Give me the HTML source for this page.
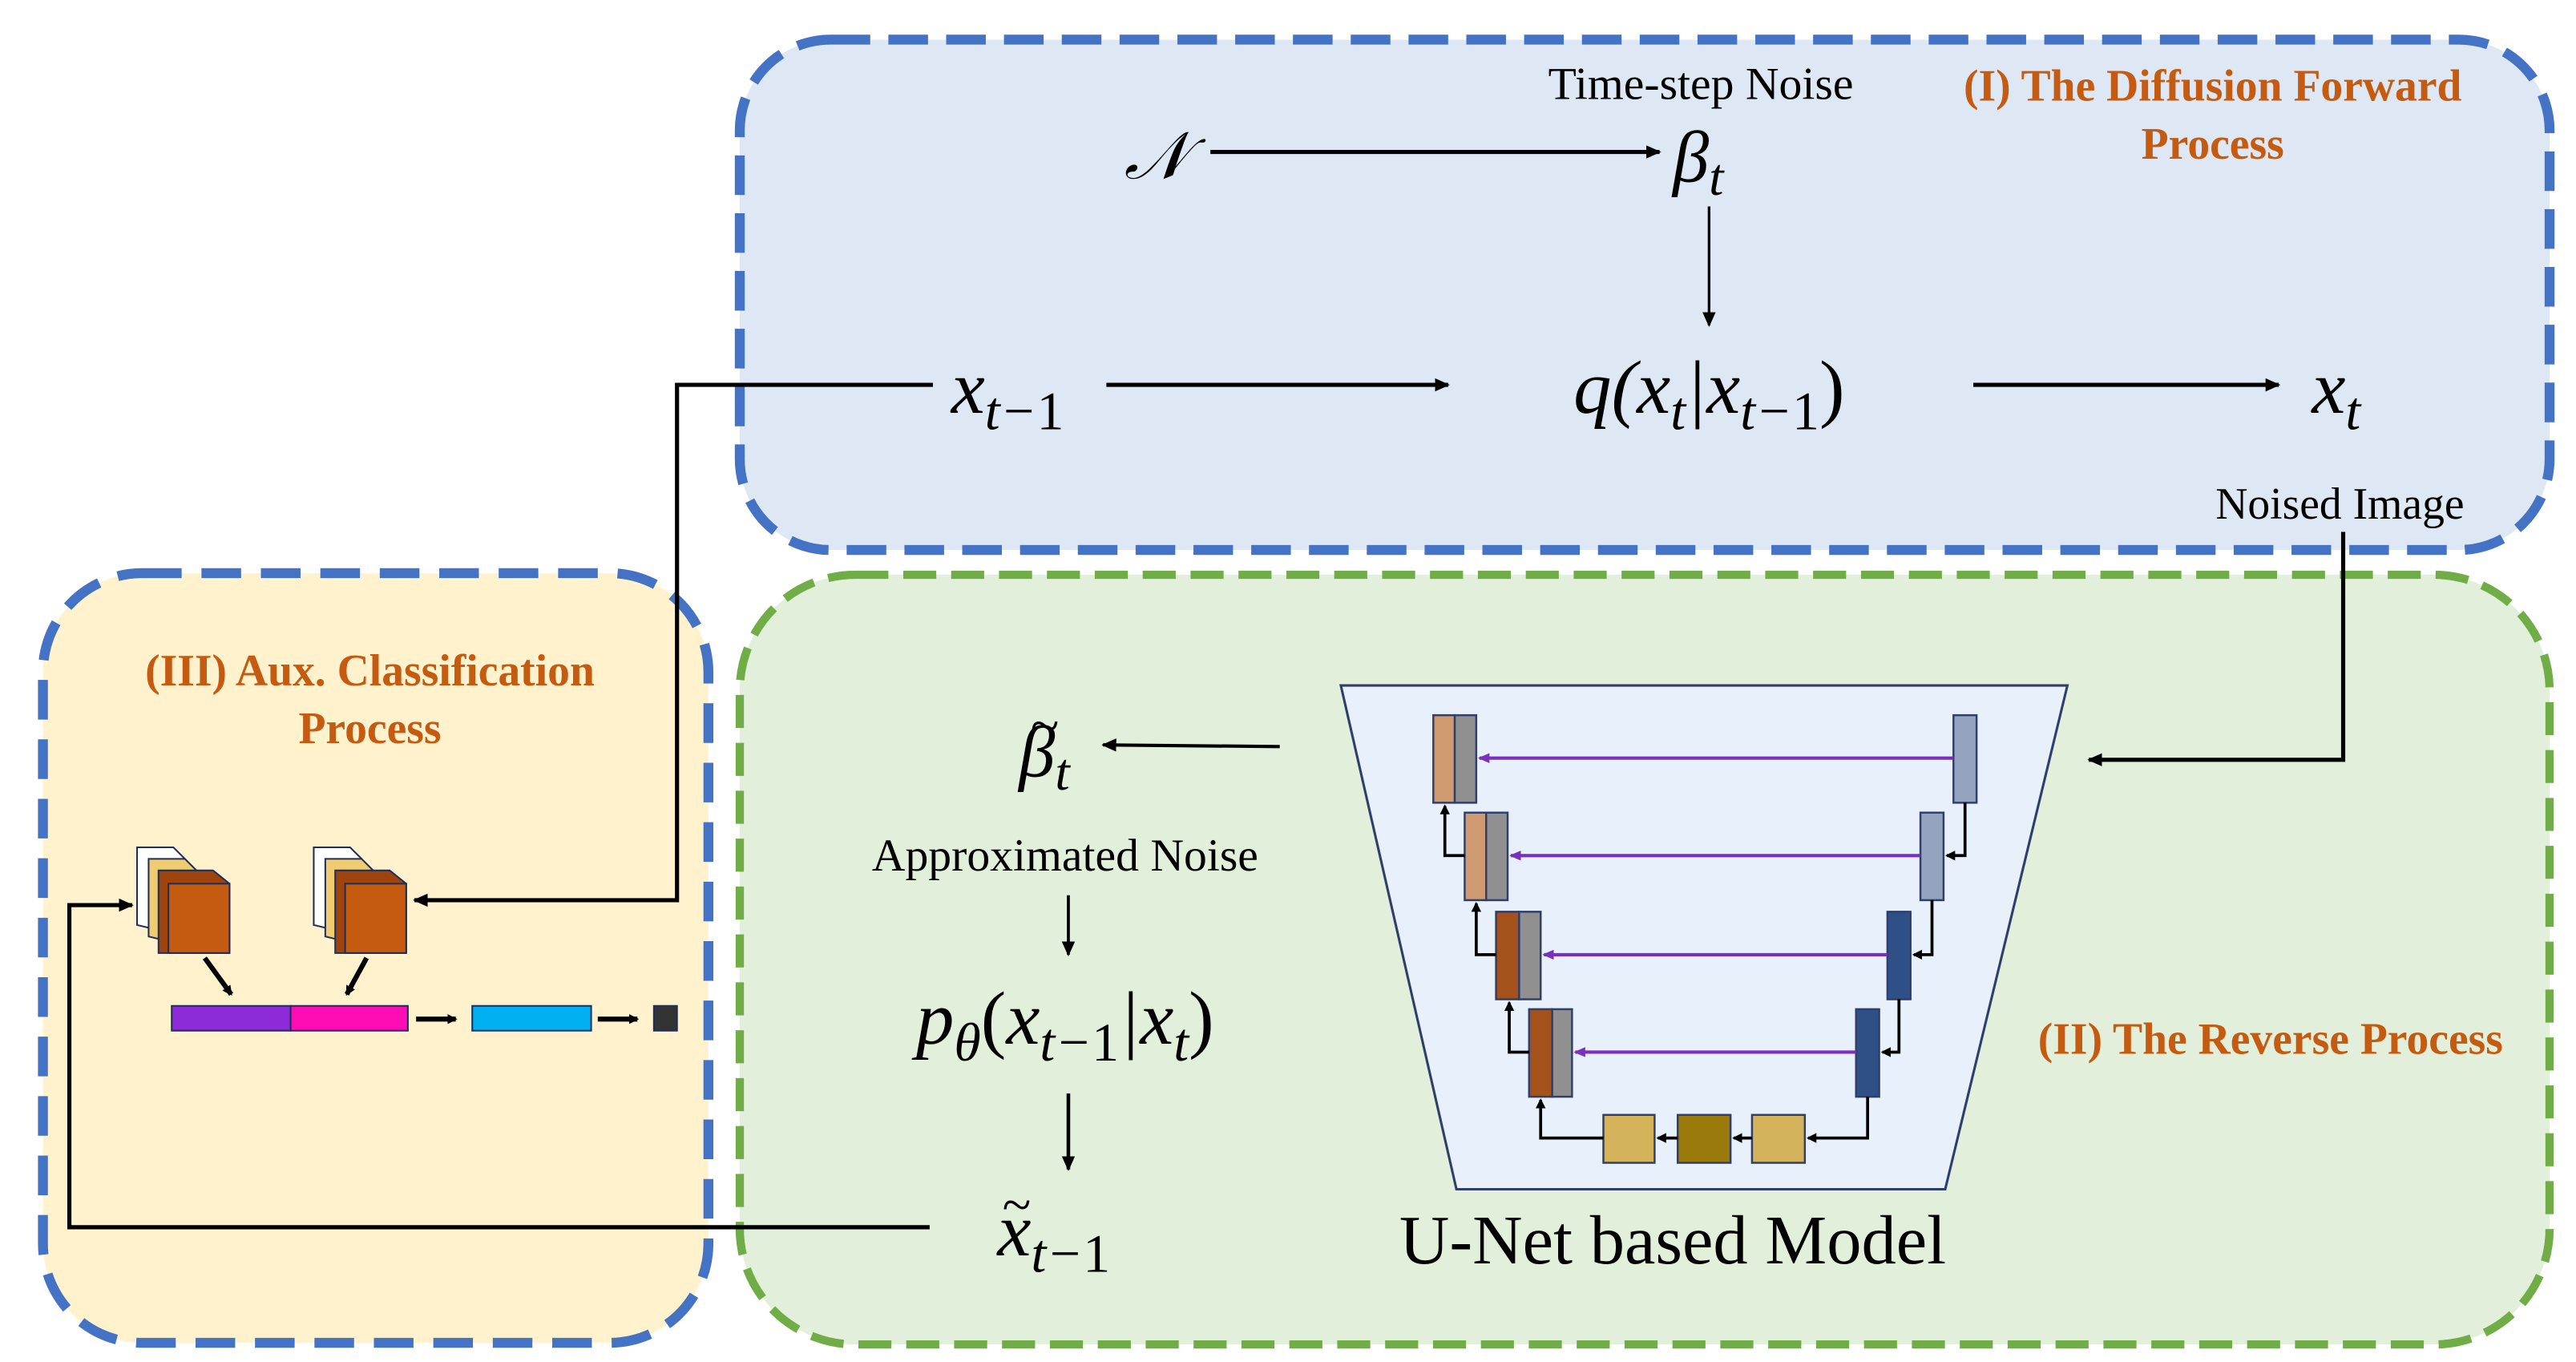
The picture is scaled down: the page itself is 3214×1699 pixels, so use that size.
<!DOCTYPE html>
<html><head><meta charset="utf-8"><style>
html,body{margin:0;padding:0;background:#fff;}
svg{display:block;}
text{font-family:"Liberation Serif",serif;}
.m{font-style:italic;}
.lbl{fill:#c55a11;font-weight:bold;font-size:27px;}
</style></head><body>
<svg width="3214" height="1699" viewBox="0 0 1560 824.6" preserveAspectRatio="none" xmlns="http://www.w3.org/2000/svg">
<defs>
<marker id="a" markerWidth="10" markerHeight="10" refX="8" refY="5" orient="auto" markerUnits="userSpaceOnUse"><path d="M0,1 L9,5 L0,9 z" fill="#000"/></marker>
<marker id="p" markerWidth="8" markerHeight="8" refX="6" refY="4" orient="auto" markerUnits="userSpaceOnUse"><path d="M0,1 L7,4 L0,7 z" fill="#7b2fbe"/></marker>
<marker id="s" markerWidth="7" markerHeight="7" refX="5" refY="3.5" orient="auto" markerUnits="userSpaceOnUse"><path d="M0,0.5 L6,3.5 L0,6.5 z" fill="#000"/></marker>
</defs>
<rect x="448" y="24" width="1096" height="309" rx="55" fill="#dee8f4" stroke="#4472c4" stroke-width="6" stroke-dasharray="24,11"/>
<rect x="448" y="348" width="1096" height="466" rx="70" fill="#e2efda" stroke="#70ad47" stroke-width="5" stroke-dasharray="20,9"/>
<rect x="26" y="347" width="403" height="466" rx="60" fill="#fff2cc" stroke="#4472c4" stroke-width="6" stroke-dasharray="24,12"/>

<text x="1030" y="60" font-size="28" text-anchor="middle">Time-step Noise</text>
<text x="1340" y="61" class="lbl" text-anchor="middle">(I) The Diffusion  Forward</text>
<text x="1340" y="96" class="lbl" text-anchor="middle">Process</text>
<text x="700" y="108" font-size="40" text-anchor="middle" class="m">𝒩</text>
<line x1="733" y1="92" x2="1005" y2="92" stroke="#000" stroke-width="2.5" marker-end="url(#a)"/>
<text x="1013" y="110" font-size="44" class="m">β<tspan font-size="32" dy="8">t</tspan></text>
<line x1="1035" y1="125" x2="1035" y2="197" stroke="#000" stroke-width="1.6" marker-end="url(#a)"/>
<text x="576" y="250" font-size="46" class="m">x<tspan font-size="33" dy="10">t−</tspan><tspan font-size="33" font-style="normal">1</tspan></text>
<line x1="670" y1="233" x2="877" y2="233" stroke="#000" stroke-width="2.5" marker-end="url(#a)"/>
<text x="1035" y="250" font-size="46" text-anchor="middle" class="m">q(x<tspan font-size="33" dy="10">t</tspan><tspan dy="-10">|x</tspan><tspan font-size="33" dy="10">t−</tspan><tspan font-size="33" font-style="normal">1</tspan><tspan dy="-10" font-style="normal">)</tspan></text>
<line x1="1195" y1="233" x2="1380" y2="233" stroke="#000" stroke-width="2.5" marker-end="url(#a)"/>
<text x="1400" y="250" font-size="46" class="m">x<tspan font-size="33" dy="10">t</tspan></text>
<text x="1417" y="314" font-size="27" text-anchor="middle">Noised Image</text>

<polyline points="1419,322 1419,460 1265,460" fill="none" stroke="#000" stroke-width="2.5" marker-end="url(#a)"/>
<polyline points="565,233 410,233 410,545 251,545" fill="none" stroke="#000" stroke-width="2.5" marker-end="url(#a)"/>
<polyline points="563,743 42,743 42,548 80,548" fill="none" stroke="#000" stroke-width="2.5" marker-end="url(#a)"/>

<text x="617" y="470" font-size="44" class="m">β<tspan font-size="32" dy="8">t</tspan></text>
<text x="624" y="450" font-size="32">~</text>
<line x1="775" y1="452" x2="668" y2="451" stroke="#000" stroke-width="2" marker-end="url(#a)"/>
<text x="645" y="527" font-size="28" text-anchor="middle">Approximated Noise</text>
<line x1="647" y1="542" x2="647" y2="578" stroke="#000" stroke-width="1.8" marker-end="url(#a)"/>
<text x="645" y="632" font-size="46" text-anchor="middle" class="m">p<tspan font-size="33" dy="10">θ</tspan><tspan dy="-10" font-style="normal">(</tspan>x<tspan font-size="33" dy="10">t−</tspan><tspan font-size="33" font-style="normal">1</tspan><tspan dy="-10">|x</tspan><tspan font-size="33" dy="10">t</tspan><tspan dy="-10" font-style="normal">)</tspan></text>
<line x1="647" y1="662" x2="647" y2="708" stroke="#000" stroke-width="2.2" marker-end="url(#a)"/>
<text x="604" y="760" font-size="46" class="m">x<tspan font-size="33" dy="10">t−</tspan><tspan font-size="33" font-style="normal">1</tspan></text>
<text x="607" y="740" font-size="32">~</text>
<text x="1013" y="765" font-size="42" text-anchor="middle">U-Net based Model</text>
<text x="1375" y="638" class="lbl" text-anchor="middle">(II) The Reverse Process</text>

<polygon points="812,415 1252,415 1178,720 882,720" fill="#e8f0fc" stroke="#2f3f6a" stroke-width="1.5"/>
<g stroke="#2f3f6a" stroke-width="1.2">
<rect x="868" y="433" width="13" height="53" fill="#d09a70"/><rect x="881" y="433" width="13" height="53" fill="#909090"/>
<rect x="887" y="492" width="13" height="53" fill="#d09a70"/><rect x="900" y="492" width="13" height="53" fill="#909090"/>
<rect x="906" y="552" width="14" height="53" fill="#a5511b"/><rect x="920" y="552" width="13" height="53" fill="#909090"/>
<rect x="926" y="611" width="14" height="53" fill="#a5511b"/><rect x="940" y="611" width="12" height="53" fill="#909090"/>
<rect x="1183" y="433" width="14" height="53" fill="#94a4bf"/>
<rect x="1163" y="492" width="14" height="53" fill="#94a4bf"/>
<rect x="1143" y="552" width="14" height="53" fill="#2f5087"/>
<rect x="1124" y="611" width="14" height="53" fill="#2f5087"/>
<rect x="971" y="675" width="31" height="29" fill="#d4b35a"/>
<rect x="1016" y="675" width="32" height="29" fill="#9a7a0a"/>
<rect x="1061" y="675" width="32" height="29" fill="#d4b35a"/>
</g>
<g stroke="#7b2fbe" stroke-width="2">
<line x1="1183" y1="459" x2="896" y2="459" marker-end="url(#p)"/>
<line x1="1163" y1="518" x2="915" y2="518" marker-end="url(#p)"/>
<line x1="1143" y1="578" x2="935" y2="578" marker-end="url(#p)"/>
<line x1="1124" y1="637" x2="954" y2="637" marker-end="url(#p)"/>
</g>
<g fill="none" stroke="#000" stroke-width="1.8">
<polyline points="1190,486 1190,518 1179,518" marker-end="url(#s)"/>
<polyline points="1170,545 1170,578 1159,578" marker-end="url(#s)"/>
<polyline points="1150,605 1150,637 1140,637" marker-end="url(#s)"/>
<polyline points="1131,664 1131,689 1095,689" marker-end="url(#s)"/>
<line x1="1061" y1="689" x2="1050" y2="689" marker-end="url(#s)"/>
<line x1="1016" y1="689" x2="1004" y2="689" marker-end="url(#s)"/>
<polyline points="971,689 933,689 933,666" marker-end="url(#s)"/>
<polyline points="926,637 914,637 914,607" marker-end="url(#s)"/>
<polyline points="906,578 894,578 894,547" marker-end="url(#s)"/>
<polyline points="887,518 875,518 875,488" marker-end="url(#s)"/>
</g>

<text x="224" y="415" class="lbl" text-anchor="middle">(III) Aux. Classification</text>
<text x="224" y="450" class="lbl" text-anchor="middle">Process</text>
<g stroke="#1f2f5a" stroke-width="1">
<polygon points="83,560 83,513 105,513 112,520 112,567" fill="#fff"/>
<polygon points="90,567 90,520 112,520 119,527 119,574" fill="#f0cc70"/>
<polygon points="96,577 96,527 129,527 139,535 139,577" fill="#a0440e"/>
<rect x="102" y="535" width="37" height="42" fill="#c55a11"/>
<polygon points="190,560 190,513 212,513 219,520 219,567" fill="#fff"/>
<polygon points="197,567 197,520 219,520 226,527 226,574" fill="#f0cc70"/>
<polygon points="203,577 203,527 236,527 246,535 246,577" fill="#a0440e"/>
<rect x="209" y="535" width="37" height="42" fill="#c55a11"/>
<rect x="104" y="609" width="72" height="15" fill="#8d2bd8"/>
<rect x="176" y="609" width="71" height="15" fill="#ff0cb4"/>
<rect x="286" y="609" width="72" height="15" fill="#00b0f0"/>
<rect x="396" y="609" width="14" height="15" fill="#333"/>
</g>
<g stroke="#000" stroke-width="3">
<line x1="124" y1="580" x2="140" y2="602" marker-end="url(#s)"/>
<line x1="222" y1="580" x2="210" y2="602" marker-end="url(#s)"/>
<line x1="252" y1="617" x2="276" y2="617" marker-end="url(#s)"/>
<line x1="362" y1="617" x2="386" y2="617" marker-end="url(#s)"/>
</g>
</svg>
</body></html>
